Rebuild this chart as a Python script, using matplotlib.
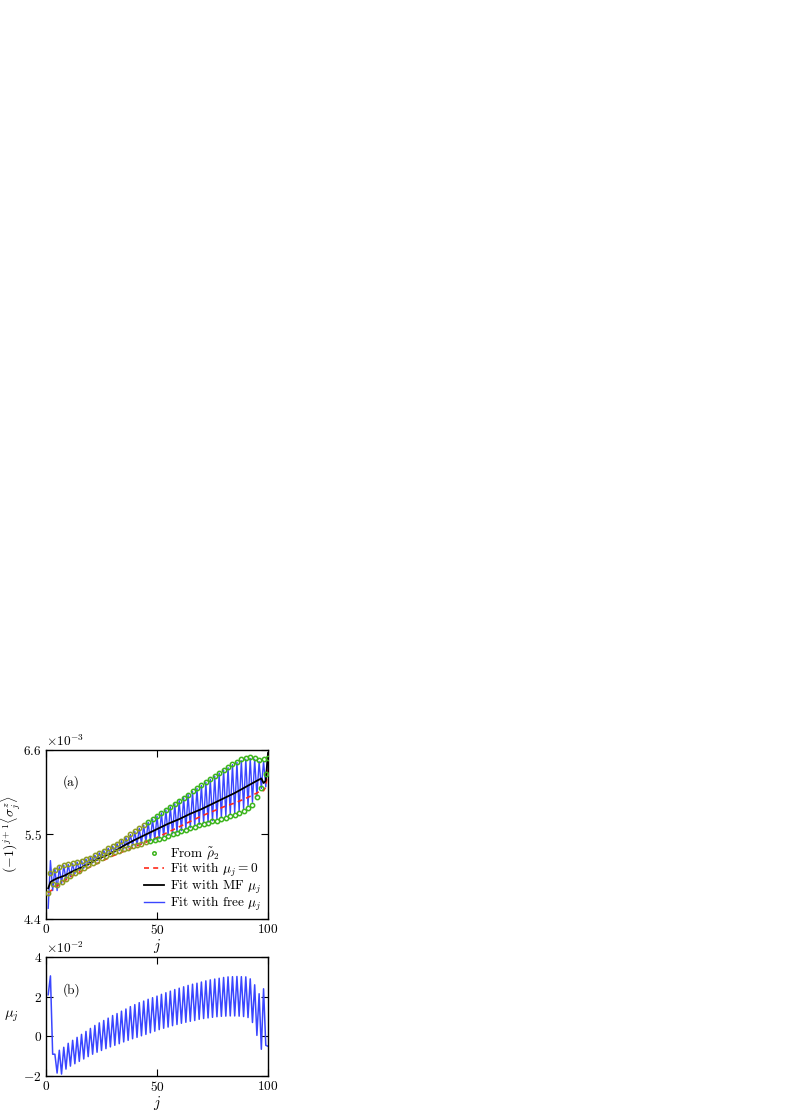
import numpy as np
import matplotlib
matplotlib.use("Agg")
import matplotlib.pyplot as plt

plt.rcParams['font.family'] = 'serif'
plt.rcParams['font.serif'] = ['cmr10', 'DejaVu Serif']
plt.rcParams['mathtext.fontset'] = 'cm'
plt.rcParams['axes.formatter.use_mathtext'] = True
plt.rcParams['font.size'] = 9.6

# ---- panel (a) data, units of 1e-3 ----
j_odd = np.arange(1, 101, 2)
j_even = np.arange(2, 101, 2)

green_odd = [4.74, 4.86, 4.84, 4.88, 4.92, 4.96, 5.0, 5.03, 5.06, 5.1,
             5.13, 5.16, 5.19, 5.22, 5.24, 5.27, 5.29, 5.31, 5.33, 5.35,
             5.36, 5.38, 5.4, 5.41, 5.43, 5.44, 5.46, 5.48, 5.5, 5.52,
             5.54, 5.56, 5.58, 5.6, 5.62, 5.64, 5.65, 5.67, 5.68, 5.7,
             5.72, 5.74, 5.76, 5.78, 5.81, 5.85, 5.89, 5.99, 6.1, 6.29]
green_even = [5.0, 5.04, 5.08, 5.1, 5.12, 5.13, 5.14, 5.16, 5.18, 5.2,
              5.23, 5.26, 5.29, 5.32, 5.35, 5.38, 5.42, 5.46, 5.5, 5.54,
              5.58, 5.62, 5.66, 5.7, 5.74, 5.78, 5.82, 5.86, 5.9, 5.94,
              5.98, 6.02, 6.06, 6.1, 6.14, 6.18, 6.22, 6.26, 6.3, 6.34,
              6.38, 6.42, 6.45, 6.48, 6.5, 6.51, 6.5, 6.47, 6.48, 6.5]

blue_odd = [4.54, 4.77, 4.77, 4.86, 4.91, 4.95, 4.99, 5.03, 5.06, 5.1,
            5.13, 5.16, 5.19, 5.22, 5.24, 5.27, 5.29, 5.31, 5.33, 5.35,
            5.36, 5.38, 5.4, 5.42, 5.43, 5.45, 5.47, 5.49, 5.51, 5.53,
            5.55, 5.57, 5.59, 5.61, 5.63, 5.65, 5.66, 5.68, 5.7, 5.72,
            5.74, 5.76, 5.78, 5.8, 5.83, 5.87, 5.92, 6.0, 6.1, 6.12]
blue_even = [5.16, 5.06, 5.08, 5.1, 5.11, 5.12, 5.14, 5.16, 5.18, 5.2,
             5.23, 5.26, 5.29, 5.32, 5.35, 5.38, 5.42, 5.46, 5.5, 5.54,
             5.58, 5.62, 5.66, 5.7, 5.74, 5.78, 5.82, 5.86, 5.9, 5.94,
             5.98, 6.02, 6.06, 6.1, 6.14, 6.18, 6.22, 6.26, 6.3, 6.34,
             6.37, 6.41, 6.44, 6.46, 6.48, 6.49, 6.48, 6.45, 6.45, 6.56]

black_j = [1, 2, 3, 5, 8, 12, 16, 20, 24, 28, 32, 36, 40, 45, 50, 55, 60,
           65, 70, 75, 80, 85, 90, 95, 97, 98, 99, 100]
black_val = [4.8, 4.88, 4.9, 4.93, 4.96, 5.02, 5.07, 5.13, 5.19, 5.24, 5.3,
             5.37, 5.43, 5.5, 5.57, 5.64, 5.7, 5.77, 5.83, 5.9, 5.97, 6.04,
             6.12, 6.2, 6.23, 6.17, 6.2, 6.56]

red_j = [1, 5, 10, 15, 20, 25, 30, 35, 40, 45, 50, 55, 60, 65, 70, 75, 80,
         85, 90, 95, 97, 98, 99, 100]
red_val = [4.74, 4.83, 4.93, 5.01, 5.08, 5.15, 5.22, 5.28, 5.34, 5.4, 5.46,
           5.53, 5.6, 5.67, 5.74, 5.8, 5.86, 5.91, 5.97, 6.04, 6.08, 6.07,
           6.12, 6.35]

# ---- panel (b) data, units of 1e-2 ----
mu_odd = [2.1, -0.9, -1.85, -1.9, -1.65, -1.5, -1.38, -1.26, -1.14, -1.02,
          -0.9, -0.8, -0.71, -0.62, -0.53, -0.45, -0.37, -0.28, -0.2, -0.12,
          -0.05, 0.03, 0.1, 0.18, 0.26, 0.34, 0.41, 0.47, 0.54, 0.6,
          0.66, 0.71, 0.76, 0.8, 0.86, 0.9, 0.93, 0.96, 0.99, 1.01,
          1.02, 1.03, 1.03, 1.02, 1.0, 0.95, 0.7, 0.05, -0.65, -0.45]
mu_even = [3.05, -0.9, -0.7, -0.55, -0.35, -0.2, -0.05, 0.1, 0.25, 0.4,
           0.55, 0.68, 0.8, 0.92, 1.05, 1.15, 1.27, 1.38, 1.5, 1.6,
           1.7, 1.78, 1.87, 1.95, 2.03, 2.12, 2.2, 2.28, 2.36, 2.43,
           2.5, 2.57, 2.63, 2.68, 2.74, 2.8, 2.85, 2.89, 2.93, 2.97,
           3.0, 3.01, 3.02, 3.01, 3.0, 2.9, 2.6, 2.15, 2.4, -0.5]


def interleave(j_o, v_o, j_e, v_e):
    j = np.concatenate([j_o, j_e])
    v = np.concatenate([v_o, v_e])
    order = np.argsort(j)
    return j[order], v[order]


jg, green = interleave(j_odd, green_odd, j_even, green_even)
jb, blue = interleave(j_odd, blue_odd, j_even, blue_even)
jm, mu = interleave(j_odd, mu_odd, j_even, mu_even)

c_green = '#3cb41c'
c_olive = '#8e9c22'
c_red = '#ff2a1a'
c_blue = '#3a46ff'

fig = plt.figure(figsize=(7.85, 11.1), dpi=100)
ax1 = fig.add_axes([0.0586, 0.1721, 0.2828, 0.1522])
ax2 = fig.add_axes([0.0586, 0.0306, 0.2828, 0.1072])

ax1.plot(jb, blue * 1e-3, color=c_blue, lw=1.0, label=r'Fit with free $\mu_j$', zorder=2)
ax1.plot(red_j, np.array(red_val) * 1e-3, color=c_red, lw=1.2, ls=(0, (3, 2.5)),
         label=r'Fit with $\mu_j = 0$', zorder=3)
ax1.plot(black_j, np.array(black_val) * 1e-3, color='black', lw=1.3,
         label=r'Fit with MF $\mu_j$', zorder=4)
olive = jg <= 45
ax1.plot(jg[olive], green[olive] * 1e-3, 'o', mfc='none', mec=c_olive, ms=3.1, mew=1.1, zorder=5)
ax1.plot(jg[~olive], green[~olive] * 1e-3, 'o', mfc='none', mec=c_green, ms=3.1, mew=1.1,
         label=r'From $\tilde{\rho}_2$', zorder=5)

ax1.set_xlim(0, 100)
ax1.set_ylim(4.4e-3, 6.6e-3)
ax1.set_xticks([0, 50, 100])
ax1.set_yticks([4.4e-3, 5.5e-3, 6.6e-3])
ax1.ticklabel_format(style='sci', axis='y', scilimits=(0, 0), useMathText=True)
ax1.set_xlabel(r'$j$', labelpad=0, fontsize=10.5)
ax1.set_ylabel(r'$(-1)^{j+1}\langle\sigma_j^z\rangle$', labelpad=0, fontsize=10)
ax1.text(0.075, 0.81, '(a)', transform=ax1.transAxes, fontsize=9.6, va='center')

h, l = ax1.get_legend_handles_labels()
order = [3, 1, 2, 0]
ax1.legend([h[i] for i in order], [l[i] for i in order], loc='lower right',
           frameon=False, fontsize=9.6, handlelength=1.5, handletextpad=0.5,
           labelspacing=-0.1, borderaxespad=0.15, markerscale=0.8,
           borderpad=0.3)

ax2.plot(jm, mu * 1e-2, color=c_blue, lw=1.1)
ax2.set_xlim(0, 100)
ax2.set_ylim(-2e-2, 4e-2)
ax2.set_xticks([0, 50, 100])
ax2.set_yticks([-2e-2, 0, 2e-2, 4e-2])
ax2.ticklabel_format(style='sci', axis='y', scilimits=(0, 0), useMathText=True)
ax2.set_xlabel(r'$j$', labelpad=0, fontsize=10.5)
ax2.set_ylabel(r'$\mu_j$', rotation=0, labelpad=9, va='center', fontsize=10.5)
ax2.text(0.075, 0.72, '(b)', transform=ax2.transAxes, fontsize=9.6, va='center')

for ax in (ax1, ax2):
    ax.tick_params(direction='in', top=True, right=True, length=5, width=0.8, labelsize=9.6, pad=3)
    ax.minorticks_off()
    for s in ax.spines.values():
        s.set_linewidth(1.0)
    ax.yaxis.get_offset_text().set_fontsize(9.6)

fig.savefig('out.png', dpi=100)
